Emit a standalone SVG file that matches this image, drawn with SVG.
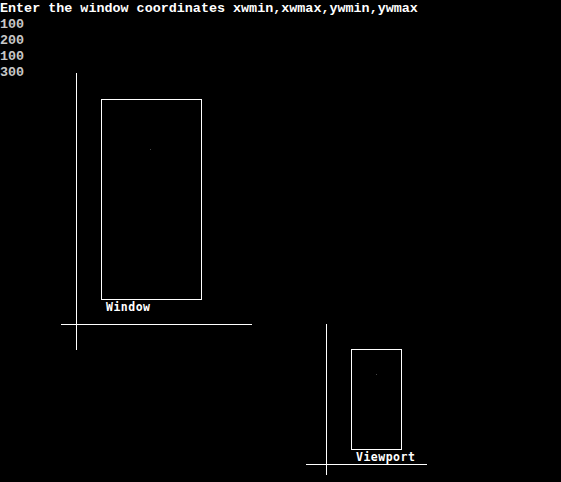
<svg xmlns="http://www.w3.org/2000/svg" width="561" height="482" viewBox="0 0 561 482">
<style>
.bg{fill:#000}
.ln{stroke:#fff;stroke-width:1;fill:none;shape-rendering:crispEdges}
.hdr{font-family:"Liberation Mono","DejaVu Sans Mono",monospace;font-weight:bold;font-size:13.4px;fill:#fff}
.num{font-family:"Liberation Mono","DejaVu Sans Mono",monospace;font-weight:bold;font-size:13.4px;fill:#c8c8c8}
.lbl{font-family:"DejaVu Sans Mono","Liberation Mono",monospace;font-weight:bold;font-size:11.5px;fill:#fff;letter-spacing:0.5px}
.dot{fill:#444}
</style>
<rect class="bg" x="0" y="0" width="561" height="482"/>
<g id="prompt">
<text class="hdr" x="0" y="11.5">Enter the window coordinates xwmin,xwmax,ywmin,ywmax</text>
<text class="num" x="0" y="27.5">100</text>
<text class="num" x="0" y="43.5">200</text>
<text class="num" x="0" y="59.5">100</text>
<text class="num" x="0" y="75.5">300</text>
</g>
<g id="connectors">
<line class="ln" x1="76.5" y1="73" x2="76.5" y2="350"/>
<line class="ln" x1="61" y1="324.5" x2="252" y2="324.5"/>
<line class="ln" x1="326.5" y1="324" x2="326.5" y2="475"/>
<line class="ln" x1="306" y1="464.5" x2="427" y2="464.5"/>
</g>
<g id="window">
<rect class="ln" x="101.5" y="99.5" width="100" height="200"/>
<rect class="dot" x="150" y="149" width="1" height="1"/>
<text class="lbl" x="106" y="311">Window</text>
</g>
<g id="viewport">
<rect class="ln" x="351.5" y="349.5" width="50" height="100"/>
<rect class="dot" x="376" y="374" width="1" height="1"/>
<text class="lbl" x="356" y="461">Viewport</text>
</g>
</svg>
